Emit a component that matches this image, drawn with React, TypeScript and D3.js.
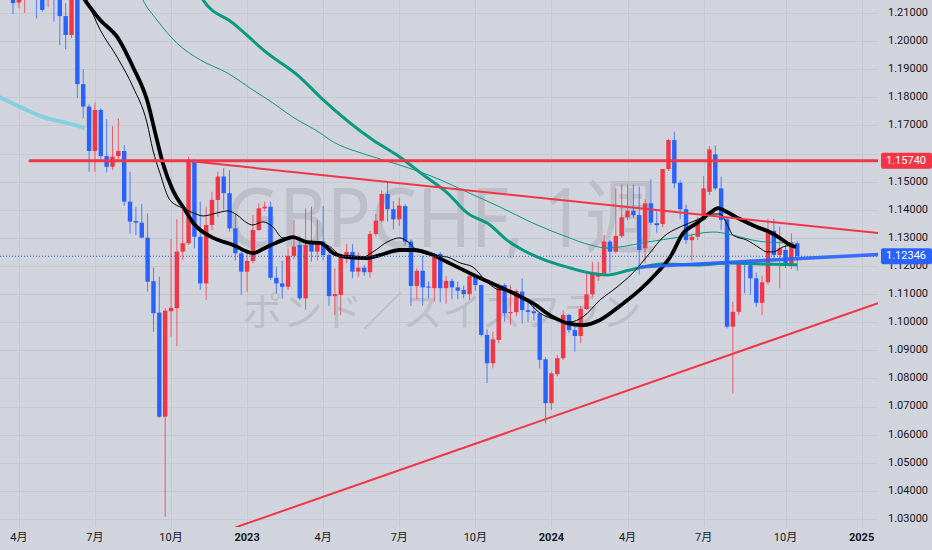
import * as d3 from "d3";
import React from "react";

const WIDTH = 932;
const HEIGHT = 550;
const PLOT_RIGHT = 878;
const PLOT_BOTTOM = 527;

// weekly bars, the first one is the week of 2022-03-28
const firstWeek = new Date(2022, 2, 28);

// [open, high, low, close]
const weeklyOHLC: [number, number, number, number][] = [
  [1.225, 1.232, 1.2096, 1.2135],
  [1.2137, 1.23, 1.2117, 1.225],
  [1.225, 1.235, 1.21, 1.229],
  [1.229, 1.24, 1.22, 1.233],
  [1.233, 1.238, 1.2079, 1.222],
  [1.222, 1.226, 1.2105, 1.2111],
  [1.216, 1.228, 1.212, 1.223],
  [1.223, 1.226, 1.2069, 1.216],
  [1.216, 1.22, 1.1986, 1.2089],
  [1.2089, 1.2135, 1.1971, 1.2022],
  [1.2022, 1.222, 1.2011, 1.218],
  [1.218, 1.222, 1.1797, 1.1847],
  [1.1847, 1.19, 1.1725, 1.1767],
  [1.1767, 1.1775, 1.1535, 1.1609],
  [1.1609, 1.1781, 1.1535, 1.1755],
  [1.1755, 1.1761, 1.157, 1.1591],
  [1.1591, 1.1722, 1.1533, 1.1553],
  [1.1553, 1.1698, 1.1541, 1.1589],
  [1.1591, 1.1725, 1.158, 1.1609],
  [1.1609, 1.163, 1.1414, 1.1429],
  [1.1429, 1.1535, 1.1316, 1.1358],
  [1.136, 1.1411, 1.131, 1.1354],
  [1.1354, 1.1421, 1.1297, 1.1301],
  [1.1301, 1.1387, 1.1109, 1.1144],
  [1.1146, 1.1194, 1.0966, 1.1032],
  [1.1034, 1.1162, 1.066, 1.0664],
  [1.0664, 1.105, 1.0308, 1.1041],
  [1.1039, 1.1296, 1.0949, 1.1051],
  [1.105, 1.1367, 1.0915, 1.1251],
  [1.1251, 1.1411, 1.1221, 1.1281],
  [1.1281, 1.1589, 1.1275, 1.1575],
  [1.1571, 1.158, 1.1263, 1.1304],
  [1.1304, 1.1429, 1.1115, 1.1138],
  [1.1138, 1.1411, 1.1079, 1.1346],
  [1.1346, 1.1464, 1.1328, 1.1435],
  [1.1435, 1.1535, 1.1375, 1.1518],
  [1.1518, 1.1548, 1.14, 1.1459],
  [1.1459, 1.1541, 1.1322, 1.1334],
  [1.1334, 1.1381, 1.122, 1.1245],
  [1.1245, 1.1255, 1.1097, 1.118],
  [1.118, 1.1245, 1.1109, 1.1218],
  [1.1218, 1.1381, 1.121, 1.1328],
  [1.1328, 1.1423, 1.1325, 1.1405],
  [1.1405, 1.1429, 1.1395, 1.1411],
  [1.1411, 1.1429, 1.115, 1.1158],
  [1.1158, 1.1197, 1.1103, 1.1138],
  [1.1138, 1.1218, 1.1083, 1.1126],
  [1.1126, 1.1263, 1.1115, 1.1236],
  [1.1236, 1.1364, 1.1224, 1.1269],
  [1.1275, 1.1305, 1.1078, 1.1085],
  [1.1085, 1.1405, 1.1045, 1.1275],
  [1.1281, 1.1411, 1.1215, 1.1251],
  [1.1251, 1.1364, 1.122, 1.1287],
  [1.1287, 1.1413, 1.1221, 1.1239],
  [1.1239, 1.125, 1.1058, 1.1093],
  [1.1093, 1.1192, 1.1026, 1.11],
  [1.1097, 1.1245, 1.1026, 1.1236],
  [1.1236, 1.1278, 1.121, 1.125],
  [1.125, 1.1278, 1.1156, 1.118],
  [1.118, 1.1249, 1.1161, 1.1194],
  [1.1194, 1.1203, 1.1165, 1.1178],
  [1.1178, 1.1325, 1.1158, 1.1314],
  [1.1314, 1.1385, 1.1305, 1.1361],
  [1.1361, 1.1469, 1.1355, 1.1456],
  [1.1456, 1.15, 1.1358, 1.1402],
  [1.1402, 1.1431, 1.1331, 1.1366],
  [1.1366, 1.1443, 1.1342, 1.1415],
  [1.1413, 1.142, 1.1273, 1.1287],
  [1.1287, 1.1295, 1.1058, 1.1129],
  [1.1129, 1.1192, 1.1081, 1.1183],
  [1.1183, 1.1236, 1.1059, 1.1124],
  [1.1127, 1.1145, 1.1085, 1.1123],
  [1.1121, 1.1246, 1.1072, 1.1243],
  [1.1243, 1.125, 1.107, 1.1121],
  [1.1121, 1.1165, 1.1066, 1.1147],
  [1.1147, 1.1155, 1.1081, 1.1124],
  [1.1124, 1.1145, 1.1082, 1.1112],
  [1.1115, 1.113, 1.1085, 1.11],
  [1.11, 1.1177, 1.1079, 1.1164],
  [1.1162, 1.1165, 1.1112, 1.1132],
  [1.1132, 1.1135, 1.095, 1.0955],
  [1.0955, 1.0975, 1.0783, 1.0854],
  [1.0854, 1.0966, 1.0836, 1.0939],
  [1.0937, 1.1138, 1.0925, 1.1132],
  [1.1132, 1.1138, 1.1002, 1.1032],
  [1.1032, 1.1132, 1.099, 1.1036],
  [1.1036, 1.1118, 1.1021, 1.1111],
  [1.1109, 1.1156, 1.0996, 1.1043],
  [1.1043, 1.1085, 1.1, 1.1037],
  [1.1039, 1.1074, 1.1006, 1.1032],
  [1.1032, 1.1034, 1.0836, 1.0866],
  [1.0868, 1.0875, 1.064, 1.0712],
  [1.0712, 1.0824, 1.0688, 1.0818],
  [1.0815, 1.0884, 1.0807, 1.0872],
  [1.0872, 1.1043, 1.0866, 1.1026],
  [1.1026, 1.1029, 1.0961, 1.0972],
  [1.0972, 1.0996, 1.0895, 1.0951],
  [1.0951, 1.1058, 1.0925, 1.1047],
  [1.1047, 1.1174, 1.1043, 1.1099],
  [1.1099, 1.1215, 1.1091, 1.1174],
  [1.1162, 1.1215, 1.1147, 1.1174],
  [1.1174, 1.131, 1.1162, 1.1287],
  [1.1287, 1.1293, 1.1177, 1.1251],
  [1.1251, 1.1476, 1.1245, 1.1307],
  [1.1307, 1.149, 1.13, 1.1373],
  [1.1373, 1.149, 1.1363, 1.1397],
  [1.1397, 1.149, 1.1372, 1.1381],
  [1.1381, 1.1482, 1.117, 1.1257],
  [1.1263, 1.1437, 1.121, 1.1423],
  [1.1423, 1.1508, 1.1346, 1.1354],
  [1.1352, 1.1395, 1.1318, 1.1345],
  [1.1349, 1.1545, 1.1338, 1.1545],
  [1.1545, 1.1652, 1.1538, 1.1648],
  [1.1648, 1.1678, 1.1476, 1.1494],
  [1.1496, 1.1505, 1.1366, 1.1402],
  [1.1402, 1.1419, 1.1278, 1.1292],
  [1.1292, 1.1315, 1.1219, 1.1304],
  [1.1304, 1.1375, 1.1292, 1.1364],
  [1.1364, 1.152, 1.136, 1.1476],
  [1.1464, 1.1627, 1.1452, 1.1615],
  [1.1597, 1.163, 1.147, 1.1476],
  [1.1476, 1.1518, 1.1328, 1.1364],
  [1.1366, 1.1375, 1.0978, 1.0984],
  [1.0984, 1.1073, 1.0747, 1.1037],
  [1.1037, 1.1221, 1.1025, 1.121],
  [1.121, 1.1215, 1.1103, 1.1205],
  [1.1203, 1.1224, 1.1097, 1.1156],
  [1.1156, 1.1177, 1.1054, 1.1069],
  [1.1069, 1.1165, 1.1026, 1.1142],
  [1.1142, 1.1368, 1.1135, 1.1325],
  [1.1325, 1.1368, 1.122, 1.1239],
  [1.1239, 1.134, 1.1121, 1.1263],
  [1.1257, 1.1275, 1.1193, 1.1201],
  [1.1201, 1.1316, 1.1189, 1.1284],
  [1.1281, 1.1289, 1.1183, 1.12346],
];

// moving averages: [week index, price]
const maFast: [number, number][] = [
  [11.4, 1.22], [12.6, 1.2146], [14.9, 1.204], [17.8, 1.1943], [20.5, 1.1837],
  [22.9, 1.1709], [23.9, 1.1613], [25.1, 1.1531], [26.8, 1.1435], [29.0, 1.1406],
  [30.8, 1.1389], [32.5, 1.1378], [34.9, 1.1389], [36.7, 1.1396], [38.3, 1.1381],
  [40.0, 1.1353], [41.0, 1.1346], [42.7, 1.1357], [44.4, 1.1339], [46.1, 1.13],
  [47.8, 1.1303], [50.2, 1.1285], [51.9, 1.1285], [54.2, 1.1268], [55.9, 1.1239],
  [57.6, 1.1232], [59.8, 1.1232], [61.5, 1.125], [63.9, 1.1285], [66.1, 1.13],
  [67.5, 1.1285], [69.0, 1.1257], [71.3, 1.1239], [74.2, 1.1232], [76.4, 1.1211],
  [78.6, 1.1196], [81.0, 1.1143], [83.2, 1.1115], [84.4, 1.1115], [87.1, 1.109],
  [90.0, 1.1033], [92.9, 1.1008], [95.2, 1.1001], [97.4, 1.1019], [100.3, 1.1079],
  [103.2, 1.1125], [105.9, 1.1175], [108.8, 1.1246], [111.1, 1.1303], [114.0, 1.1339],
  [116.9, 1.1364], [119.1, 1.1385], [120.8, 1.1385], [122.0, 1.135], [123.0, 1.131],
  [125.4, 1.1292], [127.6, 1.1264], [128.8, 1.125], [129.9, 1.125], [131.6, 1.1268],
  [133.3, 1.1275],
];

const maSlow: [number, number][] = [
  [10.6, 1.22], [12.3, 1.2146], [14.9, 1.2075], [17.8, 1.2015], [20.5, 1.1908],
  [22.9, 1.1791], [24.6, 1.1648], [25.6, 1.1566], [27.3, 1.147], [29.4, 1.1399],
  [30.8, 1.1353], [32.0, 1.1328], [34.2, 1.13], [37.6, 1.1275], [41.0, 1.1246],
  [43.4, 1.1268], [46.1, 1.1292], [47.8, 1.1303], [50.2, 1.1285], [52.5, 1.1282],
  [54.7, 1.1246], [57.1, 1.1232], [60.5, 1.1228], [62.7, 1.1239], [66.1, 1.1257],
  [68.3, 1.1257], [71.8, 1.1239], [74.2, 1.1214], [77.6, 1.1179], [79.8, 1.1157],
  [83.2, 1.1125], [86.1, 1.1097], [88.8, 1.1068], [92.3, 1.1018], [94.7, 1.0997],
  [97.4, 1.099], [100.3, 1.1008], [103.7, 1.1058], [107.1, 1.1115], [110.0, 1.1175],
  [112.3, 1.1232], [114.5, 1.1317], [116.9, 1.1353], [119.1, 1.1389], [120.5, 1.1406],
  [122.0, 1.1392], [124.2, 1.1367], [127.1, 1.1339], [129.3, 1.1321], [131.0, 1.13],
  [132.8, 1.1275], [133.8, 1.1268],
];

const maMid: [number, number][] = [
  [21.4, 1.2182], [22.2, 1.2146], [24.6, 1.2075], [28.0, 1.1993], [32.0, 1.1933],
  [36.6, 1.1887], [41.0, 1.1826], [44.4, 1.178], [47.8, 1.173], [52.5, 1.1673],
  [54.2, 1.1648], [60.5, 1.1595], [66.1, 1.1559], [71.8, 1.1517], [77.6, 1.1463],
  [83.2, 1.141], [88.8, 1.1353], [94.7, 1.1303], [98.6, 1.1275], [101.5, 1.1264],
  [103.7, 1.1268], [108.3, 1.1285], [114.0, 1.1303], [119.6, 1.1321], [123.0, 1.131],
  [126.4, 1.1292], [128.8, 1.1285], [133.3, 1.1282],
];

const maLong: [number, number][] = [
  [31.6, 1.2182], [32.5, 1.2146], [37.6, 1.2064], [43.4, 1.1958], [49.0, 1.1872],
  [52.5, 1.1801], [61.5, 1.1648], [66.1, 1.1588], [70.1, 1.1524], [74.2, 1.146],
  [77.6, 1.1389], [81.5, 1.1346], [84.4, 1.1292], [87.1, 1.1257], [90.9, 1.1221],
  [95.2, 1.1193], [98.6, 1.1175], [101.5, 1.1168], [105.4, 1.1186], [111.1, 1.1207],
  [116.9, 1.1204], [122.5, 1.1211], [128.1, 1.1207], [134.0, 1.1204],
];

const maOld: [number, number][] = [
  [-2.3, 1.1801], [1.2, 1.1766], [5.1, 1.173], [9.2, 1.1709], [12.3, 1.1691],
];

// drawings: [week index, price]
const resistance = 1.1574;
const resistanceStartWeek = 2.9;
const lastPrice = 1.12346;
const fallingTrend: [number, number][] = [[29.7, 1.1574], [147.8, 1.1317]];
const risingTrend: [number, number][] = [[38, 1.027], [147.8, 1.1068]];
const blueLine: [number, number][] = [[106.8, 1.1196], [147.8, 1.1241]];

const priceTicks = d3.range(103, 122).map((v) => v / 100);
const tickMonths = d3.timeMonths(new Date(2022, 3, 1), new Date(2025, 1, 1), 3);

const weekDate = (k: number) => new Date(firstWeek.getTime() + k * 7 * 864e5);

const UP = "#f23645";
const DOWN = "#2962ff";
const TEXT = "#131722";
const AXIS_FONT = "Roboto, 'Noto Sans CJK JP', sans-serif";

export default function App() {
  const x = d3
    .scaleTime()
    .domain([weekDate(-2.22), weekDate(147.8)])
    .range([0, PLOT_RIGHT]);
  const y = d3.scaleLinear().domain([1.03, 1.21]).range([519, 13]);

  const line = d3
    .line<[number, number]>()
    .x((d) => x(weekDate(d[0])))
    .y((d) => y(d[1]))
    .curve(d3.curveMonotoneX);
  const straight = d3
    .line<[number, number]>()
    .x((d) => x(weekDate(d[0])))
    .y((d) => y(d[1]));

  const timeTicks = tickMonths.map((m) => ({
    date: d3.timeMonday.ceil(m),
    label: m.getMonth() === 0 ? String(m.getFullYear()) : `${m.getMonth() + 1}月`,
    year: m.getMonth() === 0,
  }));

  const tags = [
    { v: resistance, c: UP },
    { v: lastPrice, c: DOWN },
  ];
  const tagH = 16;
  // the price tags sit on top of the scale, hide the tick that is under one
  const axisTicks = priceTicks.filter((p) => tags.every((t) => Math.abs(y(p) - y(t.v)) > 9));

  const bodyW = 4.4;

  return (
    <svg
      width={WIDTH}
      height={HEIGHT}
      style={{ position: "absolute", left: 0, top: 0, display: "block" }}
    >
      <defs>
        <clipPath id="plot">
          <rect x={0} y={0} width={PLOT_RIGHT} height={PLOT_BOTTOM} />
        </clipPath>
      </defs>
      <rect width={WIDTH} height={HEIGHT} fill="#d1d4dc" />

      {/* grid */}
      <g stroke="#c6c9d1" strokeWidth={1}>
        {priceTicks.map((p) => (
          <line key={p} x1={0} x2={PLOT_RIGHT} y1={Math.round(y(p)) + 0.5} y2={Math.round(y(p)) + 0.5} />
        ))}
        {timeTicks.map((t) => (
          <line
            key={t.label + t.date.getTime()}
            x1={Math.round(x(t.date)) + 0.5}
            x2={Math.round(x(t.date)) + 0.5}
            y1={0}
            y2={PLOT_BOTTOM}
          />
        ))}
      </g>

      {/* watermark */}
      <g fill="#bcbfc7" textAnchor="middle" fontFamily="'Noto Sans', 'Noto Sans CJK JP', sans-serif">
        <text x={442} y={247} fontSize={82} textLength={432} lengthAdjust="spacingAndGlyphs">
          GBPCHF, 1週
        </text>
        <text x={442} y={326} fontSize={40} fontFamily="'Noto Sans CJK JP', sans-serif">
          ポンド／スイスフラン
        </text>
      </g>

      <g clipPath="url(#plot)">
        {/* candles */}
        {weeklyOHLC.map(([o, h, l, c], i) => {
          const cx = x(weekDate(i));
          const color = c >= o ? UP : DOWN;
          const top = y(Math.max(o, c));
          const bh = Math.max(1, y(Math.min(o, c)) - top);
          return (
            <g key={i}>
              <line x1={cx} x2={cx} y1={y(h)} y2={y(l)} stroke={color} strokeWidth={1} strokeOpacity={0.75} />
              <rect x={cx - bodyW / 2} y={top} width={bodyW} height={bh} fill={color} />
            </g>
          );
        })}

        {/* moving averages */}
        <path d={line(maOld) ?? ""} fill="none" stroke="#84d0df" strokeWidth={4} />
        <path d={line(maLong) ?? ""} fill="none" stroke="#089981" strokeWidth={3} />
        <path d={line(maMid) ?? ""} fill="none" stroke="#089981" strokeWidth={1} />
        <path d={line(maFast) ?? ""} fill="none" stroke="#000" strokeWidth={1} />
        <path d={line(maSlow) ?? ""} fill="none" stroke="#000" strokeWidth={3.8} />

        {/* last price line */}
        <line
          x1={0}
          x2={PLOT_RIGHT}
          y1={y(lastPrice)}
          y2={y(lastPrice)}
          stroke={DOWN}
          strokeWidth={1}
          strokeDasharray="1 2"
        />

        {/* drawings */}
        <line
          x1={x(weekDate(resistanceStartWeek))}
          x2={PLOT_RIGHT}
          y1={y(resistance)}
          y2={y(resistance)}
          stroke={UP}
          strokeWidth={3}
          strokeLinecap="round"
        />
        <path d={straight(fallingTrend) ?? ""} stroke={UP} strokeWidth={2} fill="none" />
        <path d={straight(risingTrend) ?? ""} stroke={UP} strokeWidth={2} fill="none" />
        <path d={straight(blueLine) ?? ""} stroke={DOWN} strokeWidth={3.5} fill="none" strokeOpacity={0.9} />
      </g>

      {/* price axis */}
      <g fontFamily={AXIS_FONT} fontSize={11} fill={TEXT}>
        {axisTicks.map((p) => (
          <text key={p} x={888} y={y(p)} dominantBaseline="middle">
            {d3.format(".5f")(p)}
          </text>
        ))}
      </g>
      {tags.map((t) => (
        <g key={t.v}>
          <rect x={881} y={y(t.v) - tagH / 2} width={51} height={tagH} rx={2} fill={t.c} />
          <text
            x={886}
            y={y(t.v)}
            dominantBaseline="middle"
            fontFamily={AXIS_FONT}
            fontSize={11}
            fill="#fff"
          >
            {d3.format(".5f")(t.v)}
          </text>
        </g>
      ))}

      {/* time axis */}
      <g fontFamily={AXIS_FONT} fontSize={11} fill={TEXT} textAnchor="middle">
        {timeTicks.map((t) => (
          <text
            key={t.label + t.date.getTime()}
            x={x(t.date)}
            y={538}
            dominantBaseline="middle"
            fontWeight={t.year ? "bold" : "normal"}
          >
            {t.label}
          </text>
        ))}
      </g>
    </svg>
  );
}
